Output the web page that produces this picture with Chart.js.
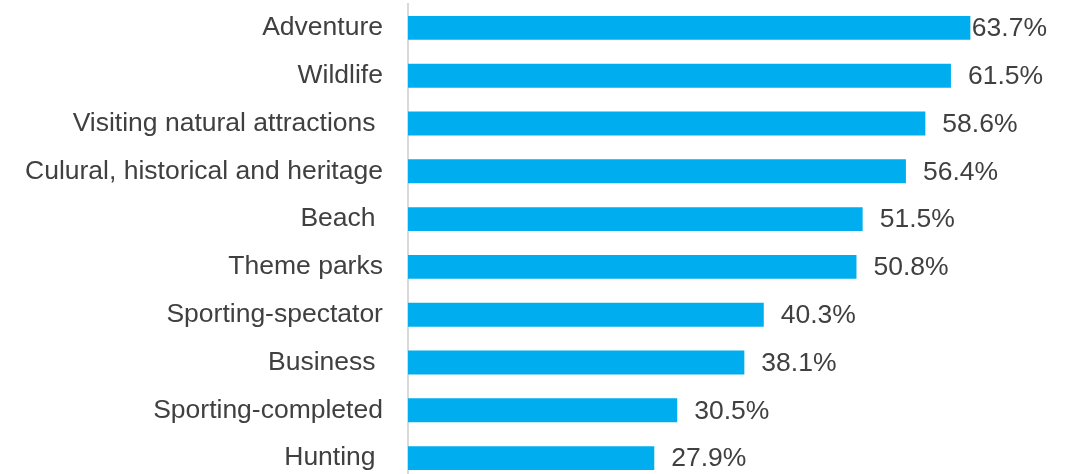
<!DOCTYPE html>
<html>
<head>
<meta charset="utf-8">
<script src="https://cdn.jsdelivr.net/npm/chart.js@4"></script>
<style>
  html, body { margin: 0; padding: 0; background: #fff; }
  #wrap { width: 1076px; height: 474px; }
</style>
</head>
<body>
<div id="wrap"><canvas id="myChart"></canvas></div>
<script>
// categories and values
var categories = ['Adventure', 'Wildlife', 'Visiting natural attractions ', 'Culural, historical and heritage',
  'Beach ', 'Theme parks', 'Sporting-spectator', 'Business ', 'Sporting-completed', 'Hunting '];
var values = [63.7, 61.5, 58.6, 56.4, 51.5, 50.8, 40.3, 38.1, 30.5, 27.9];

var FONT = '"Liberation Sans", Arial, sans-serif';

// the last row is cut off a bit by the bottom edge in the original
var stretchY = {
  id: 'stretchY',
  afterLayout(chart) {
    const y = chart.scales.y;
    y.bottom = chart.chartArea.bottom + 8;
    y.height = y.bottom - y.top;
    y.configure();
  }
};

// value labels at the end of each bar
var barLabels = {
  id: 'barLabels',
  afterDatasetsDraw(chart) {
    const ctx = chart.ctx;
    const meta = chart.getDatasetMeta(0);
    ctx.save();
    ctx.font = '26.5px ' + FONT;
    ctx.fillStyle = '#404040';
    ctx.textBaseline = 'middle';
    meta.data.forEach((bar, i) => {
      const txt = values[i].toFixed(1) + '%';
      const w = ctx.measureText(txt).width;
      let x = bar.x + 17;
      if (x + w > 1047) x = 1047 - w;
      ctx.fillText(txt, x, bar.y + 1);
    });
    ctx.restore();
  }
};

var ctx = document.getElementById('myChart').getContext('2d');
var myChart = new Chart(ctx, {
  type: 'bar',
  data: {
    labels: categories,
    datasets: [{
      data: values,
      backgroundColor: '#00AEEF',
      borderWidth: 0,
      barPercentage: 0.5,
      categoryPercentage: 1
    }]
  },
  options: {
    indexAxis: 'y',
    responsive: true,
    maintainAspectRatio: false,
    animation: false,
    layout: { padding: { top: 4, bottom: 0, right: 50, left: 0 } },
    plugins: {
      legend: { display: false },
      tooltip: { enabled: false }
    },
    scales: {
      x: {
        display: false,
        min: 0,
        max: 70
      },
      y: {
        grid: { display: false, drawTicks: false },
        border: { display: true, color: '#d9d9d9', width: 2 },
        ticks: {
          color: '#404040',
          padding: 25,
          font: { family: FONT, size: 26.5 }
        },
        afterFit(scale) {
          // no extra room above / below for the tick labels
          scale.paddingTop = 0;
          scale.paddingBottom = 0;
        }
      }
    }
  },
  plugins: [stretchY, barLabels]
});
</script>
</body>
</html>
